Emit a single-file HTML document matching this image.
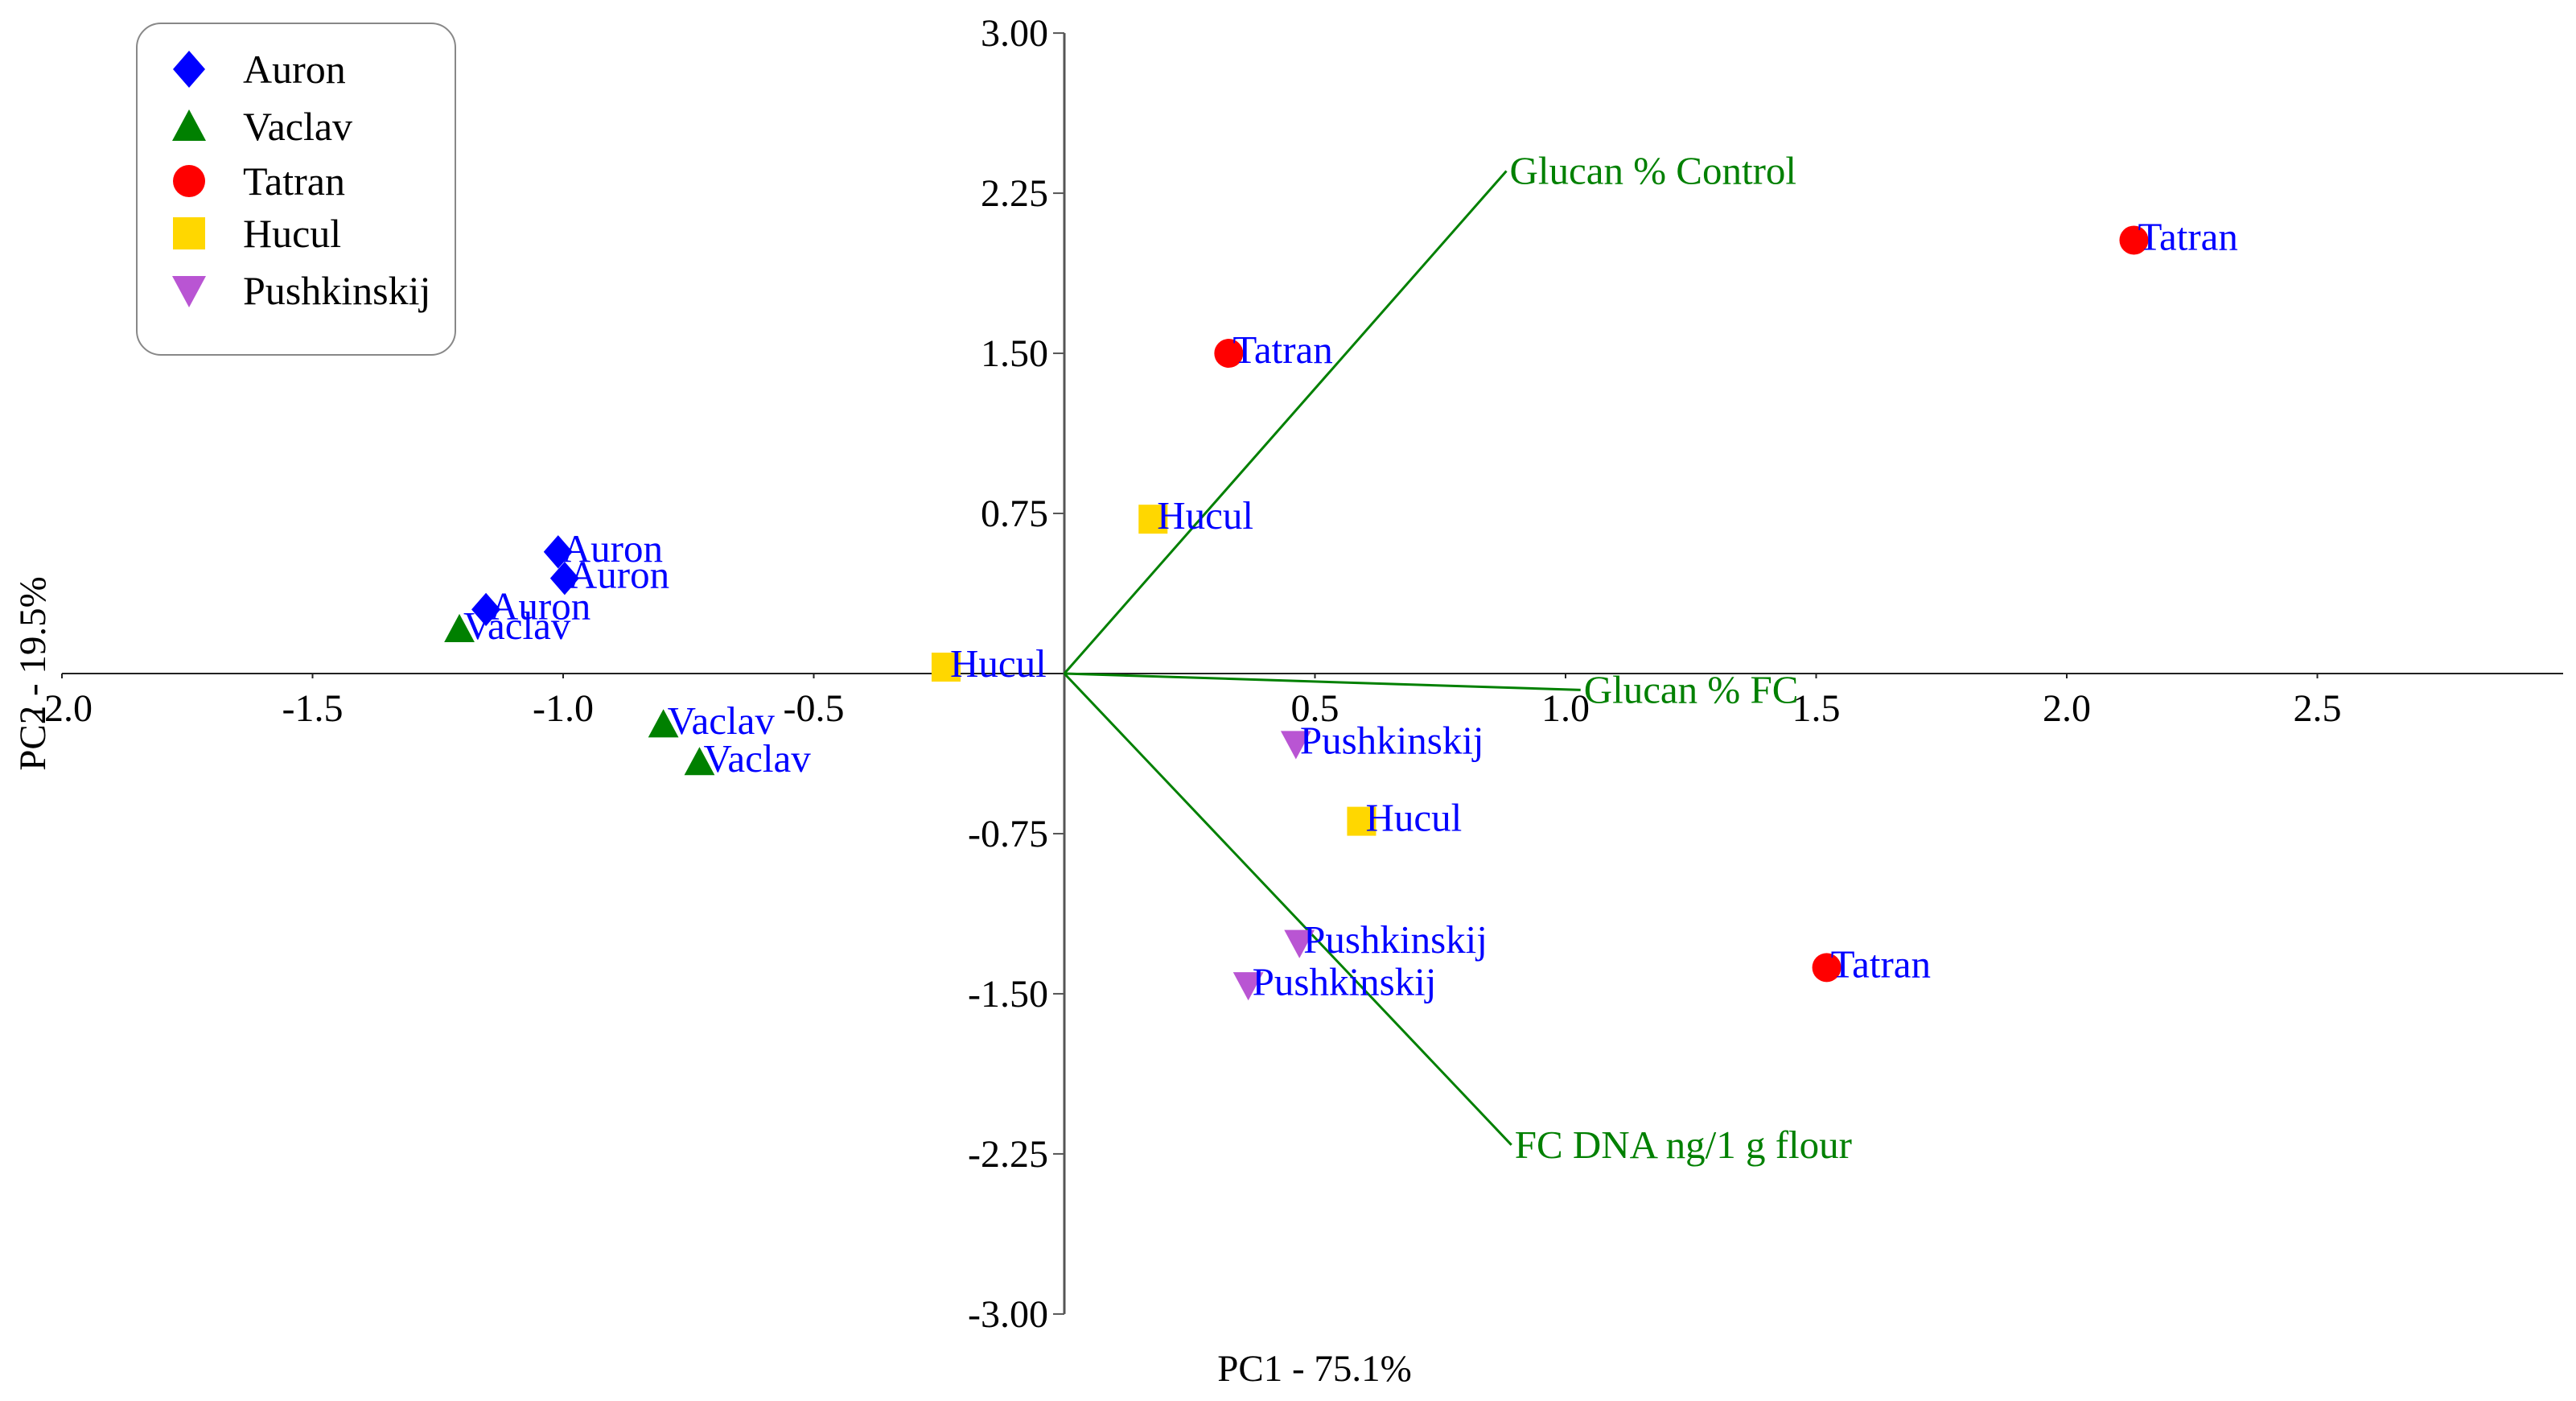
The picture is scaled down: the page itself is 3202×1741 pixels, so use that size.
<!DOCTYPE html>
<html><head><meta charset="utf-8"><style>
html,body{margin:0;padding:0;background:#fff;}
svg{display:block;font-family:"Liberation Serif",serif;}
</style></head><body>
<svg id="chart" width="3202" height="1741" viewBox="0 0 3202 1741" xmlns="http://www.w3.org/2000/svg">
<g id="axes"></g>
<g id="vectors"></g>
<g id="points"></g>
<g>
<rect x="170" y="29" width="396" height="412" rx="30" ry="30" fill="#fff" stroke="#888" stroke-width="2"/>
<g id="legend"></g>
</g>
<text x="1634" y="1716" font-size="47" text-anchor="middle">PC1 - 75.1%</text>
<text x="0" y="0" font-size="47" text-anchor="middle" transform="translate(56,837) rotate(-90)">PC2 - 19.5%</text>
</svg>
<script>
const xTicks = [-2.0,-1.5,-1.0,-0.5,0.5,1.0,1.5,2.0,2.5];
const xTickLabels = ["-2.0","-1.5","-1.0","-0.5","0.5","1.0","1.5","2.0","2.5"];
const yTicks = [3,2.25,1.5,0.75,-0.75,-1.5,-2.25,-3];
const yTickLabels = ["3.00","2.25","1.50","0.75","-0.75","-1.50","-2.25","-3.00"];
const groups = ["Auron","Vaclav","Tatran","Hucul","Pushkinskij"];
const colors = {Auron:"#0000ff",Vaclav:"#008000",Tatran:"#ff0000",Hucul:"#ffd700",Pushkinskij:"#b955d3"};
const auronX = [-1.01,-0.997,-1.154], auronY = [0.57,0.446,0.30];
const vaclavX = [-1.207,-0.80,-0.728], vaclavY = [0.208,-0.238,-0.415];
const tatranX = [0.328,2.134,1.521], tatranY = [1.50,2.03,-1.377];
const huculX = [-0.236,0.177,0.593], huculY = [0.03,0.723,-0.692];
const pushX = [0.462,0.469,0.367], pushY = [-0.33,-1.262,-1.46];
const vecNames = ["Glucan % Control","Glucan % FC","FC DNA ng/1 g flour"];
const vecX = [0.882,1.03,0.892];
const vecY = [2.354,-0.077,-2.208];

const NS="http://www.w3.org/2000/svg";
const X0=1323, Y0=837, XU=623, YU=265.3;
const sx=v=>X0+v*XU, sy=v=>Y0-v*YU;
function mk(tag,attrs,parent){const e=document.createElementNS(NS,tag);for(const k in attrs)e.setAttribute(k,attrs[k]);parent.appendChild(e);return e;}
const axes=document.getElementById('axes');
let e;
e=mk('line',{x1:sx(-2),y1:Y0,x2:3186,y2:Y0,stroke:'#222','stroke-width':2},axes);


e=mk('line',{x1:X0,y1:sy(3),x2:X0,y2:sy(-3),stroke:'#555','stroke-width':3},axes);


xTicks.forEach((t,i)=>{
 e=mk('line',{x1:sx(t),y1:Y0,x2:sx(t),y2:Y0+6,stroke:'#222','stroke-width':2},axes);
 
 
 e=mk('text',{x:sx(t),y:Y0+59,'font-size':48,'text-anchor':'middle'},axes);
 e.textContent=xTickLabels[i];
 
 
});
yTicks.forEach((t,i)=>{
 e=mk('line',{x1:X0-14,y1:sy(t),x2:X0,y2:sy(t),stroke:'#555','stroke-width':2},axes);
 
 
 e=mk('text',{x:X0-20,y:sy(t)+16,'font-size':48,'text-anchor':'end'},axes);
 e.textContent=yTickLabels[i];
 
 
});
const vg=document.getElementById('vectors');
vecNames.forEach((n,i)=>{
 e=mk('line',{x1:X0,y1:Y0,x2:sx(vecX[i]),y2:sy(vecY[i]),stroke:'#008000','stroke-width':3},vg);
 
 
 e=mk('text',{x:sx(vecX[i])+4,y:sy(vecY[i])+16,'font-size':49,fill:'#008000'},vg);
 e.textContent=n;
 
 
});
function marker(g,cx,cy,parent,s){
 const c=colors[g];
 if(g==='Auron')return mk('polygon',{points:`${cx},${cy-s*1.15} ${cx+s*1.0},${cy} ${cx},${cy+s*1.15} ${cx-s*1.0},${cy}`,fill:c},parent);
 if(g==='Vaclav')return mk('polygon',{points:`${cx},${cy-s*1.05} ${cx+s*1.05},${cy+s*0.9} ${cx-s*1.05},${cy+s*0.9}`,fill:c},parent);
 if(g==='Tatran')return mk('circle',{cx:cx,cy:cy,r:s,fill:c},parent);
 if(g==='Hucul')return mk('rect',{x:cx-s,y:cy-s,width:2*s,height:2*s,fill:c},parent);
 return mk('polygon',{points:`${cx-s*1.05},${cy-s*0.9} ${cx+s*1.05},${cy-s*0.9} ${cx},${cy+s*1.05}`,fill:c},parent);
}
const pg=document.getElementById('points');
const data={Auron:[auronX,auronY],Vaclav:[vaclavX,vaclavY],Tatran:[tatranX,tatranY],Hucul:[huculX,huculY],Pushkinskij:[pushX,pushY]};
groups.forEach(g=>{
 const [xs,ys]=data[g];
 xs.forEach((xv,i)=>{
  const cx=sx(xv), cy=sy(ys[i]);
  e=marker(g,cx,cy,pg,18);
  
  
  e=mk('text',{x:cx+5,y:cy+12,'font-size':49,fill:'#0000ff'},pg);
  e.textContent=g;
  
  
 });
});
const lg=document.getElementById('legend');
const ly=[86,157,225,290,361];
groups.forEach((g,i)=>{
 e=marker(g,235,ly[i],lg,20);
 
 
 e=mk('text',{x:302,y:ly[i]+17,'font-size':50,fill:'#000'},lg);
 e.textContent=g;
 
 
});
</script>
</body></html>
